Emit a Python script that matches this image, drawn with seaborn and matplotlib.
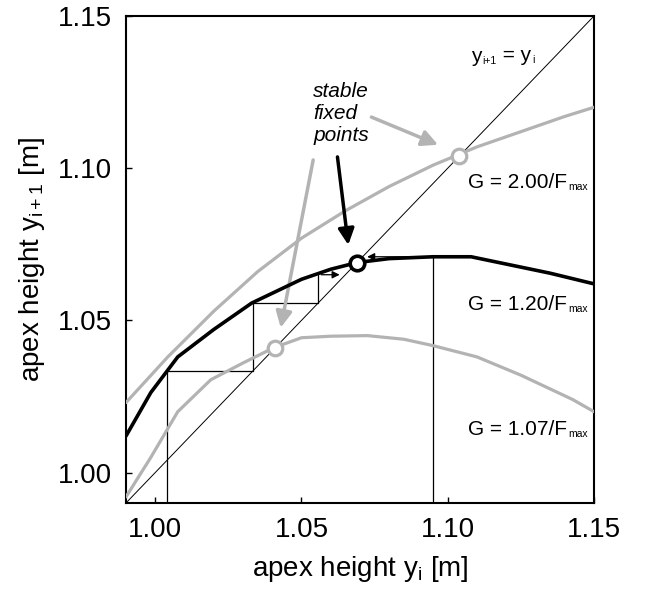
import numpy as np
import pandas as pd
import matplotlib
matplotlib.use("Agg")
import matplotlib.pyplot as plt
import seaborn as sns

# return map curves
x_g200 = [0.99, 1.0043, 1.02, 1.035, 1.05, 1.065, 1.08, 1.095, 1.11, 1.125, 1.14, 1.15]
y_g200 = [1.023, 1.038, 1.053, 1.066, 1.077, 1.086, 1.094, 1.101, 1.107, 1.112, 1.117, 1.120]

x_g120 = [0.99, 0.9985, 1.0077, 1.02, 1.033, 1.05, 1.06, 1.069, 1.08, 1.095, 1.108, 1.12, 1.135, 1.15]
y_g120 = [1.012, 1.0263, 1.038, 1.047, 1.0557, 1.0635, 1.0668, 1.069, 1.0703, 1.0709, 1.0709, 1.0685, 1.0655, 1.062]

x_g107 = [0.99, 0.9985, 1.0077, 1.019, 1.03, 1.0405, 1.05, 1.06, 1.0725, 1.085, 1.095, 1.11, 1.125, 1.1427, 1.15]
y_g107 = [0.992, 1.005, 1.020, 1.0305, 1.036, 1.041, 1.0443, 1.0448, 1.045, 1.0438, 1.0417, 1.038, 1.032, 1.024, 1.020]

# stable fixed points
fp_gray = [1.041, 1.104]
fp_black = [1.069]

# cobweb iterations on the G = 1.20 curve
cob_left_x = [1.004, 1.0335, 1.0558]
cob_left_y = [1.0335, 1.0558, 1.065]
cob_left_end = 1.064
cob_right_x = 1.095
cob_right_y = 1.0709
cob_right_end = 1.0715

labels = ["G = 2.00/F", "G = 1.20/F", "G = 1.07/F"]
label_y = [1.0935, 1.0535, 1.0125]

sns.set_style("ticks")
plt.rcParams['font.family'] = ['Liberation Sans', 'DejaVu Sans']
plt.rcParams['mathtext.fontset'] = 'custom'
plt.rcParams['mathtext.rm'] = 'Liberation Sans'
plt.rcParams['mathtext.it'] = 'Liberation Sans:italic'
for key in ['text.color', 'axes.labelcolor', 'xtick.color', 'ytick.color']:
    plt.rcParams[key] = 'black'

gray = '#b3b3b3'
lo, hi = 0.99, 1.15

fig = plt.figure(figsize=(6.46, 5.95), dpi=100)
ax = fig.add_axes([0.195, 0.1546, 0.7245, 0.8185])

# identity line
ax.plot([lo, hi], [lo, hi], color='black', lw=0.7, zorder=2)

df200 = pd.DataFrame({'x': x_g200, 'y': y_g200})
df120 = pd.DataFrame({'x': x_g120, 'y': y_g120})
df107 = pd.DataFrame({'x': x_g107, 'y': y_g107})
sns.lineplot(data=df200, x='x', y='y', color=gray, lw=2.3, ax=ax, sort=False, zorder=3)
sns.lineplot(data=df107, x='x', y='y', color=gray, lw=2.3, ax=ax, sort=False, zorder=3)
sns.lineplot(data=df120, x='x', y='y', color='black', lw=2.6, ax=ax, sort=False, zorder=4)

# cobweb, left start
prev = lo
for xi, yi in zip(cob_left_x, cob_left_y):
    ax.plot([xi, xi], [prev, yi], color='black', lw=0.9, zorder=2)
    prev = yi
for k in range(len(cob_left_x) - 1):
    ax.plot([cob_left_x[k], cob_left_x[k + 1]], [cob_left_y[k], cob_left_y[k]],
            color='black', lw=0.9, zorder=2)
ax.annotate('', xy=(cob_left_end, cob_left_y[-1]), xytext=(cob_left_x[-1], cob_left_y[-1]),
            arrowprops=dict(arrowstyle='-|>', color='black', lw=0.9, mutation_scale=11), zorder=2)

# cobweb, right start
ax.plot([cob_right_x, cob_right_x], [lo, cob_right_y], color='black', lw=0.9, zorder=2)
ax.annotate('', xy=(cob_right_end, cob_right_y), xytext=(cob_right_x, cob_right_y),
            arrowprops=dict(arrowstyle='-|>', color='black', lw=0.9, mutation_scale=11), zorder=2)

# fixed point markers
sns.scatterplot(x=fp_gray, y=fp_gray, s=110, facecolor='white', edgecolor=gray,
                linewidth=2.3, ax=ax, zorder=6)
sns.scatterplot(x=fp_black, y=fp_black, s=110, facecolor='white', edgecolor='black',
                linewidth=2.6, ax=ax, zorder=6)

# annotation
ax.text(1.054, 1.118, 'stable\nfixed\npoints', fontsize=15, style='italic',
        ha='left', va='center', linespacing=1.2)
ax.annotate('', xy=(1.0967, 1.1077), xytext=(1.0739, 1.1168),
            arrowprops=dict(arrowstyle='-|>', color=gray, lw=2.5, mutation_scale=24,
                            shrinkA=0, shrinkB=0))
ax.annotate('', xy=(1.0429, 1.0476), xytext=(1.054, 1.1027),
            arrowprops=dict(arrowstyle='-|>', color=gray, lw=2.5, mutation_scale=24,
                            shrinkA=0, shrinkB=0))
ax.annotate('', xy=(1.066, 1.0748), xytext=(1.0623, 1.1037),
            arrowprops=dict(arrowstyle='-|>', color='black', lw=2.5, mutation_scale=24,
                            shrinkA=0, shrinkB=0))

DESC = 0.212  # descent of the font relative to its size


def chain_text(x, y, parts):
    # parts: list of (string, fontsize, baseline shift in points)
    s0, f0, d0 = parts[0]
    prev = ax.text(x, y, s0, fontsize=f0, ha='left', va='baseline')
    prev_f, prev_d = f0, d0
    for s, f, d in parts[1:]:
        off = d - prev_d + DESC * prev_f
        prev = ax.annotate(s, xy=(1, 0), xycoords=prev, xytext=(0.5, off),
                           textcoords='offset points', fontsize=f,
                           ha='left', va='baseline')
        prev_f, prev_d = f, d


chain_text(1.108, 1.135, [('y', 15, 0), ('i+1', 7.5, -2), (' = y', 15, 0), ('i', 7.5, -2)])
for lab, ly in zip(labels, label_y):
    chain_text(1.107, ly, [(lab, 15, 0), ('max', 7.5, -2)])

ax.set_xlim(lo, hi)
ax.set_ylim(lo, hi)
ax.set_xticks([1.00, 1.05, 1.10, 1.15])
ax.set_yticks([1.00, 1.05, 1.10, 1.15])
ax.set_xticklabels(['1.00', '1.05', '1.10', '1.15'])
ax.set_yticklabels(['1.00', '1.05', '1.10', '1.15'])
ax.tick_params(direction='in', length=4, width=1, labelsize=20, pad=10,
               top=False, right=False)
ax.set_xlabel('apex height y$_{\\rm i}$ [m]', fontsize=20, labelpad=8)
ax.set_ylabel('apex height y$_{\\rm i+1}$ [m]', fontsize=20, labelpad=8)
for sp in ax.spines.values():
    sp.set_visible(True)
    sp.set_linewidth(1.5)
    sp.set_color('black')

fig.savefig('out.png', dpi=100)
